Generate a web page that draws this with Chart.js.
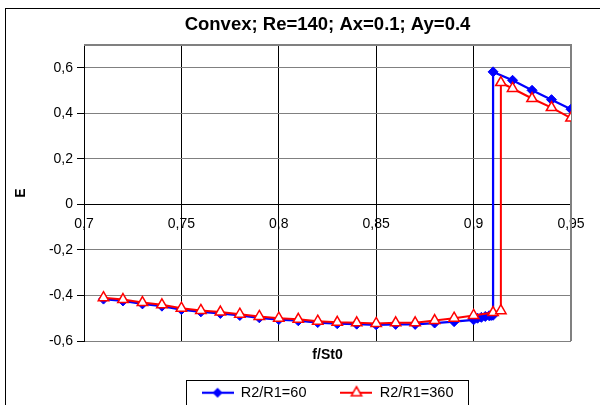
<!DOCTYPE html>
<html>
<head>
<meta charset="utf-8">
<script src="https://cdn.jsdelivr.net/npm/chart.js@4.4.1/dist/chart.umd.min.js"></script>
<style>
  html, body { margin: 0; padding: 0; overflow: hidden; background: #fff; }
  canvas { display: block; }
</style>
</head>
<body>
<canvas id="chart" width="600" height="410"></canvas>
<script>
// E against f/St0, R2/R1 = 60
const freq60 = [0.71, 0.72, 0.73, 0.74, 0.75, 0.76, 0.77, 0.78, 0.79, 0.80,
    0.81, 0.82, 0.83, 0.84, 0.85, 0.86, 0.87, 0.88, 0.89, 0.90,
    0.902, 0.904, 0.906, 0.908, 0.909, 0.91, 0.91, 0.92, 0.93, 0.94, 0.95];
const energy60 = [-0.416, -0.424, -0.437, -0.447, -0.462, -0.472, -0.479, -0.488, -0.498, -0.506,
    -0.511, -0.519, -0.524, -0.526, -0.529, -0.527, -0.527, -0.521, -0.515, -0.507,
    -0.500, -0.496, -0.492, -0.489, -0.488, -0.487, 0.582, 0.545, 0.501, 0.460, 0.418];

// E against f/St0, R2/R1 = 360
const freq360 = [0.71, 0.72, 0.73, 0.74, 0.75, 0.76, 0.77, 0.78, 0.79, 0.80,
    0.81, 0.82, 0.83, 0.84, 0.85, 0.86, 0.87, 0.88, 0.89, 0.90,
    0.91, 0.914, 0.914, 0.92, 0.93, 0.94, 0.95];
const energy360 = [-0.410, -0.418, -0.431, -0.441, -0.456, -0.466, -0.473, -0.482, -0.492, -0.500,
    -0.505, -0.513, -0.518, -0.520, -0.523, -0.520, -0.520, -0.510, -0.500, -0.488,
    -0.475, -0.467, 0.535, 0.509, 0.465, 0.425, 0.379];

const xTicks = [0.7, 0.75, 0.8, 0.85, 0.9, 0.95];
const yTicks = [-0.6, -0.4, -0.2, 0, 0.2, 0.4, 0.6];

Chart.defaults.font.family = '"Liberation Sans", Arial, sans-serif';
Chart.defaults.color = '#000';

// decimal comma labels
const fmt = v => String(Math.round(v * 100) / 100).replace('.', ',');
const toPoints = (xs, ys) => xs.map((x, i) => ({ x: x, y: ys[i] }));

// small line + marker images for the legend
function legendIcon(color, lineWidth, marker) {
    const c = document.createElement('canvas');
    c.width = 32;
    c.height = 16;
    const g = c.getContext('2d');
    g.strokeStyle = color;
    g.lineWidth = lineWidth;
    g.beginPath();
    g.moveTo(0, 8);
    g.lineTo(32, 8);
    g.stroke();
    marker(g, 16, 8);
    return c;
}

const legendIcons = [
    legendIcon('#0000ff', 2.25, (g, x, y) => {
        g.fillStyle = '#0000ff';
        g.beginPath();
        g.moveTo(x - 5, y); g.lineTo(x, y - 5); g.lineTo(x + 5, y); g.lineTo(x, y + 5);
        g.closePath();
        g.fill();
    }),
    legendIcon('#ff0000', 2, (g, x, y) => {
        g.fillStyle = '#ffffff';
        g.strokeStyle = '#ff0000';
        g.lineWidth = 1.5;
        g.beginPath();
        g.moveTo(x, y - 6); g.lineTo(x + 5.2, y + 3); g.lineTo(x - 5.2, y + 3);
        g.closePath();
        g.fill();
        g.stroke();
    })
];

// outer frame, plot border and legend box
const frames = {
    id: 'frames',
    beforeDraw(chart) {
        const ctx = chart.ctx;
        ctx.save();
        ctx.fillStyle = '#fff';
        ctx.fillRect(0, 0, chart.width, chart.height);
        ctx.strokeStyle = '#000';
        ctx.lineWidth = 1;
        ctx.strokeRect(5.5, 8.5, chart.width + 40, chart.height + 40);
        ctx.restore();
    },
    beforeDatasetsDraw(chart) {
        const ctx = chart.ctx;
        const a = chart.chartArea;
        ctx.save();
        ctx.strokeStyle = '#808080';
        ctx.lineWidth = 2;
        ctx.beginPath();
        ctx.moveTo(a.left, a.top);
        ctx.lineTo(a.right, a.top);
        ctx.lineTo(a.right, a.bottom);
        ctx.stroke();
        ctx.restore();
    },
    afterDraw(chart) {
        const hb = chart.legend.legendHitBoxes;
        if (!hb || !hb.length) return;
        const first = hb[0];
        const last = hb[hb.length - 1];
        const x0 = Math.round(first.left - 16) + 0.5;
        const x1 = Math.round(last.left + last.width + 15) + 0.5;
        const yc = first.top + first.height / 2;
        const ctx = chart.ctx;
        ctx.save();
        ctx.strokeStyle = '#000';
        ctx.lineWidth = 1;
        ctx.strokeRect(x0, Math.round(yc - 13) + 0.5, x1 - x0, 40);
        ctx.restore();
    }
};

new Chart(document.getElementById('chart'), {
    type: 'line',
    data: {
        datasets: [
            {
                label: 'R2/R1=60',
                data: toPoints(freq60, energy60),
                borderColor: '#0000ff',
                backgroundColor: '#0000ff',
                borderWidth: 2.25,
                pointStyle: 'rectRot',
                pointRadius: 5,
                pointBackgroundColor: '#0000ff',
                pointBorderColor: '#0000ff',
                pointBorderWidth: 1,
                order: 1
            },
            {
                label: 'R2/R1=360',
                data: toPoints(freq360, energy360),
                borderColor: '#ff0000',
                backgroundColor: '#ffffff',
                borderWidth: 2,
                pointStyle: 'triangle',
                pointRadius: 6,
                pointBackgroundColor: '#ffffff',
                pointBorderColor: '#ff0000',
                pointBorderWidth: 1.5,
                order: 0
            }
        ]
    },
    options: {
        responsive: false,
        animation: false,
        layout: { padding: { left: 0, right: 29, top: 0, bottom: 0 } },
        plugins: {
            title: {
                display: true,
                fullSize: false,
                text: 'Convex; Re=140; Ax=0.1; Ay=0.4',
                color: '#000',
                font: { size: 18.5, weight: 'bold' },
                padding: { top: 13.9, bottom: 8.9 }
            },
            legend: {
                position: 'bottom',
                fullSize: false,
                labels: {
                    usePointStyle: true,
                    pointStyleWidth: 32,
                    padding: 34,
                    color: '#000',
                    font: { size: 14.5 },
                    sort: (a, b) => a.datasetIndex - b.datasetIndex,
                    generateLabels: chart => Chart.defaults.plugins.legend.labels.generateLabels(chart)
                        .map(l => Object.assign(l, { pointStyle: legendIcons[l.datasetIndex] }))
                }
            },
            tooltip: { enabled: false }
        },
        scales: {
            x: {
                type: 'linear',
                min: 0.7,
                max: 0.95,
                position: { y: 0 },
                afterBuildTicks: s => { s.ticks = xTicks.map(v => ({ value: v })); },
                ticks: { callback: v => fmt(v), font: { size: 14 }, padding: 6, maxRotation: 0, color: '#000' },
                grid: {
                    color: c => (c.tick && Math.abs(c.tick.value - 0.95) < 1e-9) ? '#808080' : '#000',
                    tickLength: 5
                },
                border: { color: '#000', width: 1 }
            },
            x2: {
                type: 'linear',
                axis: 'x',
                position: 'bottom',
                display: true,
                grid: { display: false, drawTicks: false },
                border: { display: false },
                ticks: { display: false },
                title: {
                    display: true,
                    text: 'f/St0',
                    color: '#000',
                    font: { size: 14, weight: 'bold' },
                    padding: { top: 0, bottom: -12.1 }
                },
                afterFit: s => { s.height = 10.5; }
            },
            y: {
                type: 'linear',
                min: -0.6,
                max: 0.7,
                afterBuildTicks: s => { s.ticks = yTicks.map(v => ({ value: v })); },
                afterFit: s => { s.width = 84; },
                ticks: { callback: v => fmt(v), font: { size: 14 }, padding: 4, color: '#000' },
                grid: {
                    color: c => (c.tick && c.tick.value === 0) ? '#000' : '#808080',
                    tickColor: '#000',
                    tickLength: 7
                },
                border: { color: '#000', width: 1 },
                title: {
                    display: true,
                    text: 'E',
                    color: '#000',
                    font: { size: 14, weight: 'bold' },
                    padding: { top: 12.6, bottom: 0 }
                }
            }
        }
    },
    plugins: [frames]
});
</script>
</body>
</html>
